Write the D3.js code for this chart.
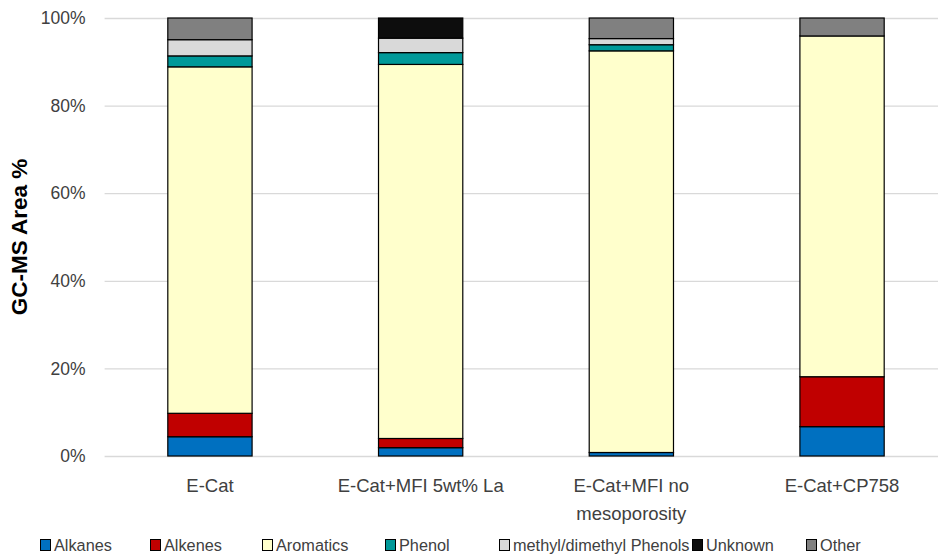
<!DOCTYPE html>
<html>
<head>
<meta charset="utf-8">
<script src="https://cdn.jsdelivr.net/npm/d3@7"></script>
<style>
  html, body { margin: 0; padding: 0; background: #fff; }
  svg { display: block; font-family: "Liberation Sans", Arial, sans-serif; }
</style>
</head>
<body>
<svg id="chart" width="938" height="554"></svg>
<script>
// ---- data ----
const categories = ["E-Cat", "E-Cat+MFI 5wt% La", "E-Cat+MFI no mesoporosity", "E-Cat+CP758"];
const categoryLines = [["E-Cat"], ["E-Cat+MFI 5wt% La"], ["E-Cat+MFI no", "mesoporosity"], ["E-Cat+CP758"]];
const seriesNames = ["Alkanes", "Alkenes", "Aromatics", "Phenol", "methyl/dimethyl Phenols", "Unknown", "Other"];
const alkanes   = [4.4, 1.9, 0.8, 6.7];
const alkenes   = [5.35, 2.1, 0.0, 11.4];
const aromatics = [79.1, 85.4, 91.7, 77.8];
const phenol    = [2.5, 2.7, 1.4, 0.0];
const methylPhenols = [3.7, 3.3, 1.4, 0.0];
const unknown   = [0.0, 4.6, 0.0, 0.0];
const other     = [4.95, 0.0, 4.7, 4.1];
const seriesColors = ["#0070C0", "#C00000", "#FFFFCC", "#009999", "#D9D9D9", "#0D0D0D", "#808080"];
const yTicks = [0, 0.2, 0.4, 0.6, 0.8, 1.0];

const seriesValues = [alkanes, alkenes, aromatics, phenol, methylPhenols, unknown, other];
const rows = categories.map((c, i) => {
  const r = { category: c };
  seriesNames.forEach((s, j) => { r[s] = seriesValues[j][i] / 100; });
  return r;
});

const svg = d3.select("#chart");
const plotLeft = 104.6, plotRight = 947.4, plotTop = 18, plotBottom = 456;

const x = d3.scaleBand().domain(categories).range([plotLeft, plotRight]).paddingInner(0.6).paddingOuter(0.3);
const y = d3.scaleLinear().domain([0, 1]).range([plotBottom, plotTop]);

// gridlines + y labels
const yAxis = d3.axisLeft(y).tickValues(yTicks).tickFormat(d3.format(".0%"))
  .tickSize(-(plotRight - plotLeft)).tickPadding(19);
const gy = svg.append("g").attr("transform", `translate(${plotLeft},0)`).call(yAxis);
gy.select(".domain").remove();
gy.selectAll(".tick line").attr("stroke", "#d9d9d9").attr("stroke-width", 1.3);
gy.selectAll(".tick text").attr("fill", "#404040").style("font-size", "17.5px")
  .style("font-family", "'Liberation Sans', Arial, sans-serif");

// y title
svg.append("text")
  .attr("transform", `translate(27,${(plotTop + plotBottom) / 2}) rotate(-90)`)
  .attr("text-anchor", "middle")
  .style("font-size", "22.5px").style("font-weight", "bold").attr("fill", "#000")
  .text("GC-MS Area %");

// stacked bars
const stack = d3.stack().keys(seriesNames);
const stacked = stack(rows);
const color = d3.scaleOrdinal().domain(seriesNames).range(seriesColors);

svg.append("g").selectAll("g").data(stacked).join("g")
  .attr("fill", d => color(d.key))
  .selectAll("rect").data(d => d.filter(p => p[1] - p[0] > 0)).join("rect")
  .attr("x", d => x(d.data.category))
  .attr("width", x.bandwidth())
  .attr("y", d => y(d[1]))
  .attr("height", d => y(d[0]) - y(d[1]))
  .attr("stroke", "#000").attr("stroke-width", 1.2);

// x labels
const xl = svg.append("g");
categories.forEach((c, i) => {
  const t = xl.append("text")
    .attr("x", x(c) + x.bandwidth() / 2)
    .attr("y", 492)
    .attr("text-anchor", "middle")
    .attr("fill", "#404040")
    .style("font-size", "18.5px");
  categoryLines[i].forEach((ln, k) => {
    t.append("tspan").attr("x", x(c) + x.bandwidth() / 2).attr("dy", k === 0 ? 0 : 28).text(ln);
  });
});

// legend
const legendX = [40, 150, 262, 385, 499, 692, 806];
const lg = svg.append("g");
seriesNames.forEach((s, i) => {
  const g = lg.append("g").attr("transform", `translate(${legendX[i]},0)`);
  g.append("rect").attr("x", 0.5).attr("y", 539.5).attr("width", 10).attr("height", 11)
    .attr("fill", color(s)).attr("stroke", "#000").attr("stroke-width", 1);
  g.append("text").attr("x", 14).attr("y", 551).attr("fill", "#404040")
    .style("font-size", "16.3px").text(s);
});
</script>
</body>
</html>
